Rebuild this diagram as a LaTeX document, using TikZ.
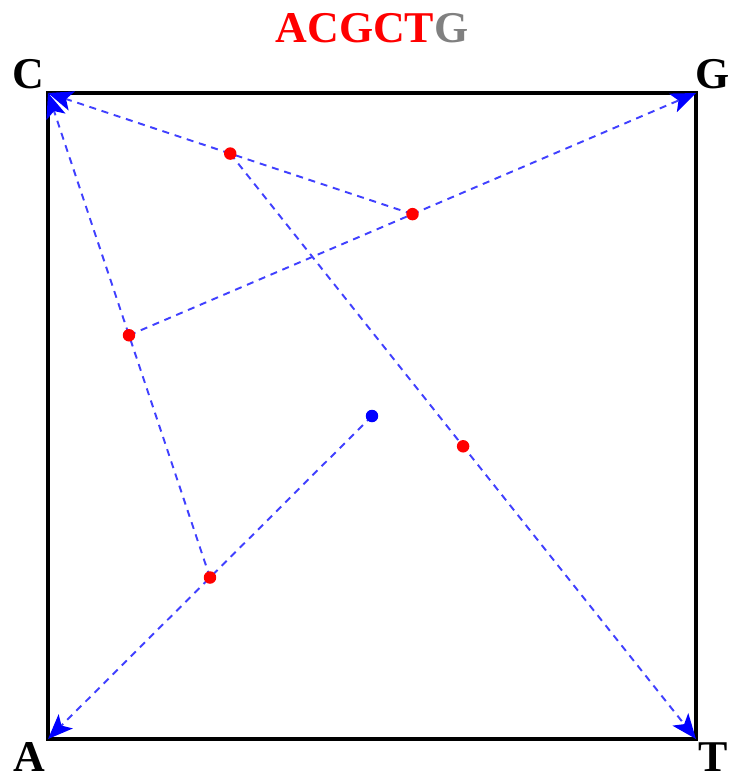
\documentclass[tikz,border=0pt]{standalone}
\usepackage{fontspec}
\setmainfont{Liberation Serif}
\usetikzlibrary{arrows.meta, calc}
\definecolor{dnared}{HTML}{FF0000}
\definecolor{dnablue}{HTML}{0000FF}
\tikzstyle{corner} = [font=\fontsize{25}{28}\selectfont\bfseries, text=black]
\tikzstyle{jump} = [dnablue!75, dash pattern=on 4pt off 3.3pt, line width=1.1pt,
                    -{Stealth[length=5mm, width=4mm, inset=1.2mm, color=dnablue]}]
\tikzstyle{dot} = [circle, inner sep=0pt, minimum size=2.5mm, fill=dnared]

\begin{document}
\begin{tikzpicture}[x=0.02cm, y=-0.02cm]
\useasboundingbox (0,0) rectangle (734,779);
% corners of the square
\coordinate (C) at (48,93);
\coordinate (G) at (696,93);
\coordinate (A) at (48,739);
\coordinate (T) at (696,739);
\draw[line width=2pt] (A) -- (T) -- (G) -- (C) -- cycle;
\node[corner] (labC) at (28,74) {C};
\node[corner] (labG) at (713,74) {G};
\node[corner] (labA) at (29,757) {A};
\node[corner] (labT) at (713,757) {T};
\node[corner] (title) at (372,28) {\textcolor{dnared}{ACGCT}\textcolor{gray}{G}};
% chaos game points
\coordinate (p0) at ($(A)!0.5!(G)$);
\coordinate (p1) at ($(p0)!0.5!(A)$);
\coordinate (p2) at ($(p1)!0.5!(C)$);
\coordinate (p3) at ($(p2)!0.5!(G)$);
\coordinate (p4) at ($(p3)!0.5!(C)$);
\coordinate (p5) at ($(p4)!0.5!(T)$);
\draw[jump] (p0) -- (A);
\draw[jump] (p1) -- (C);
\draw[jump] (p2) -- (G);
\draw[jump] (p3) -- (C);
\draw[jump] (p4) -- (T);
\node[dot, fill=dnablue] (d0) at (p0) {};
\foreach \i in {1,...,5}
  \node[dot] (d\i) at (p\i) {};
\end{tikzpicture}
\end{document}
